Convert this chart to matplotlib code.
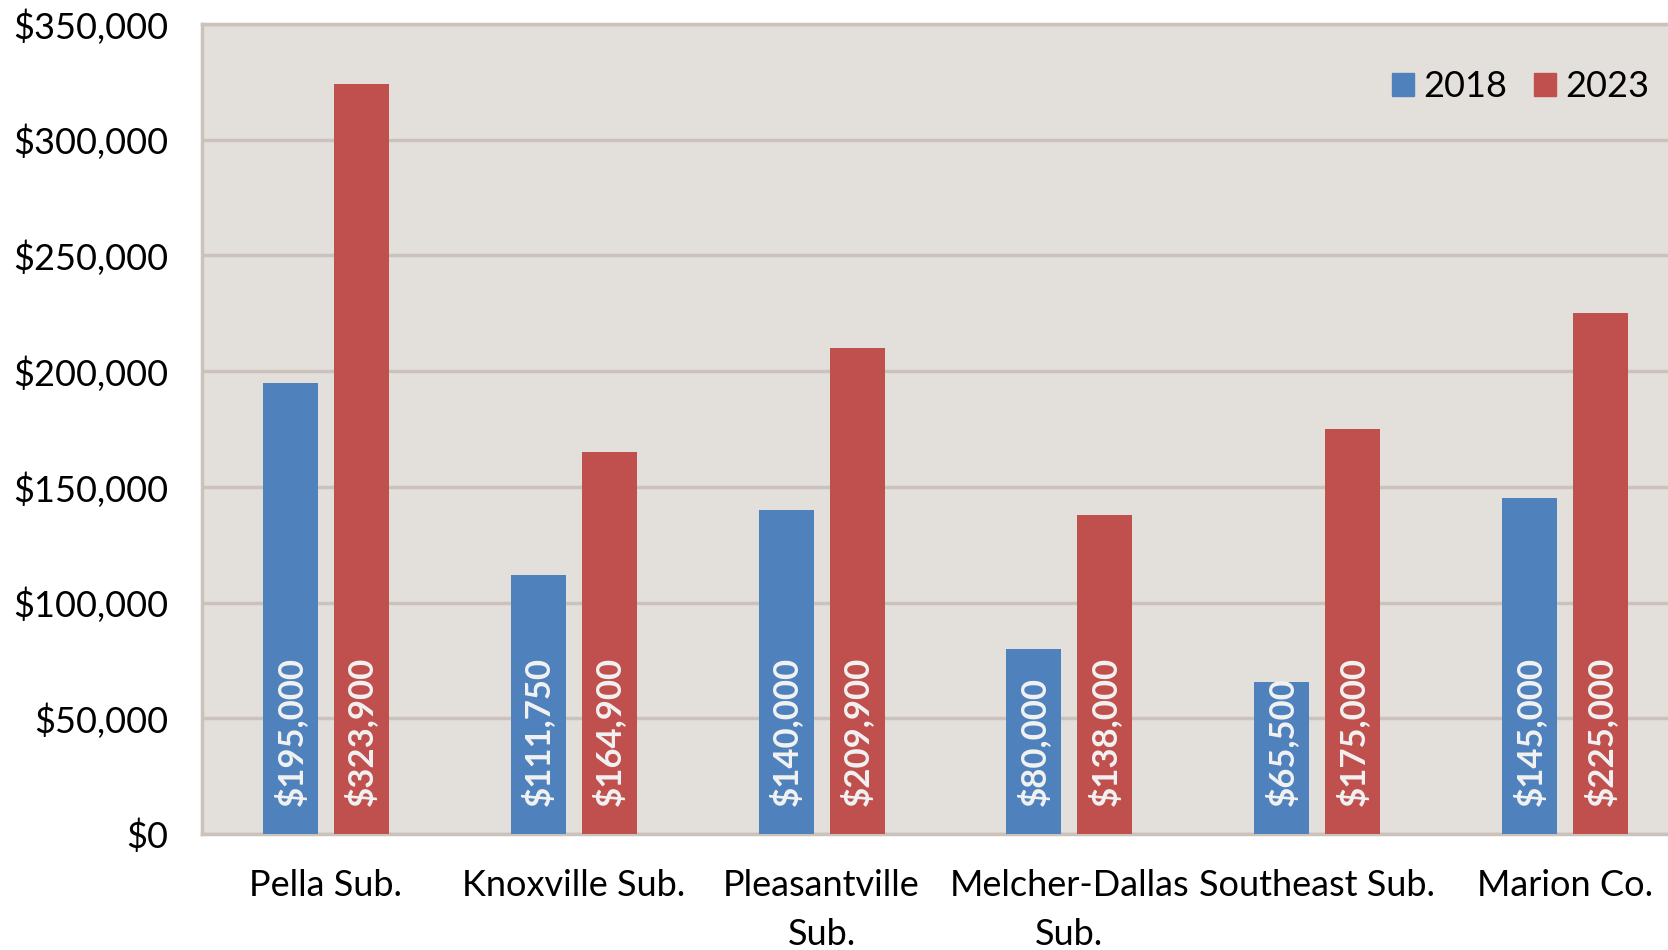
import matplotlib
matplotlib.use("Agg")
import matplotlib.pyplot as plt
import numpy as np
from matplotlib.patches import Patch
from matplotlib.ticker import FuncFormatter, MultipleLocator

areas = ["Pella Sub.", "Knoxville Sub.", "Pleasantville\nSub.",
         "Melcher-Dallas\nSub.", "Southeast Sub.", "Marion Co."]
price_2018 = [195000, 111750, 140000, 80000, 65500, 145000]
price_2023 = [323900, 164900, 209900, 138000, 175000, 225000]
years = ["2018", "2023"]

BLUE, RED = "#4f81bd", "#c0504d"
BG, GRID = "#e3e0dc", "#cac2bb"

plt.rcParams["font.family"] = ["Lato", "DejaVu Sans"]

fig = plt.figure(figsize=(16.68, 9.5), dpi=100)
ax = fig.add_axes([0.1211, 0.1221, 0.8915, 0.8526])
ax.set_facecolor(BG)

x = np.arange(len(areas))
w, off = 0.222, 0.143
for vals, sign, color in [(price_2018, -1, BLUE), (price_2023, 1, RED)]:
    b = ax.bar(x + sign * off, vals, w, color=color, zorder=3)
    for rect, v in zip(b, vals):
        ax.annotate(f"${v:,.0f}", (rect.get_x() + rect.get_width() / 2, 0),
                    xytext=(0, 20), textcoords="offset points",
                    rotation=90, ha="center", va="bottom",
                    fontsize=25, fontweight="bold", color="#f2f2f2",
                    zorder=4)

ax.set_xlim(-0.5, len(areas) - 0.5)
ax.set_ylim(0, 350000)
ax.yaxis.set_major_locator(MultipleLocator(50000))
ax.yaxis.set_major_formatter(FuncFormatter(lambda v, _: f"${v:,.0f}"))
ax.grid(axis="y", color=GRID, lw=2.5, zorder=1)
ax.set_xticks(x)
ax.set_xticklabels(areas, fontsize=26, linespacing=1.6)
ax.tick_params(axis="x", length=0, pad=25)
ax.tick_params(axis="y", length=0, pad=24, labelsize=26)
for s in ["left", "top", "bottom", "right"]:
    ax.spines[s].set_color(GRID)
    ax.spines[s].set_linewidth(2.5)

handles = [Patch(color=BLUE), Patch(color=RED)]
fig.legend(handles, years, loc="center right", bbox_to_anchor=(1.008, 0.909),
           ncol=2, frameon=False, fontsize=26, handlelength=0.6,
           handleheight=0.6, handletextpad=0.25, columnspacing=0.75)

fig.savefig("out.png", dpi=100)
